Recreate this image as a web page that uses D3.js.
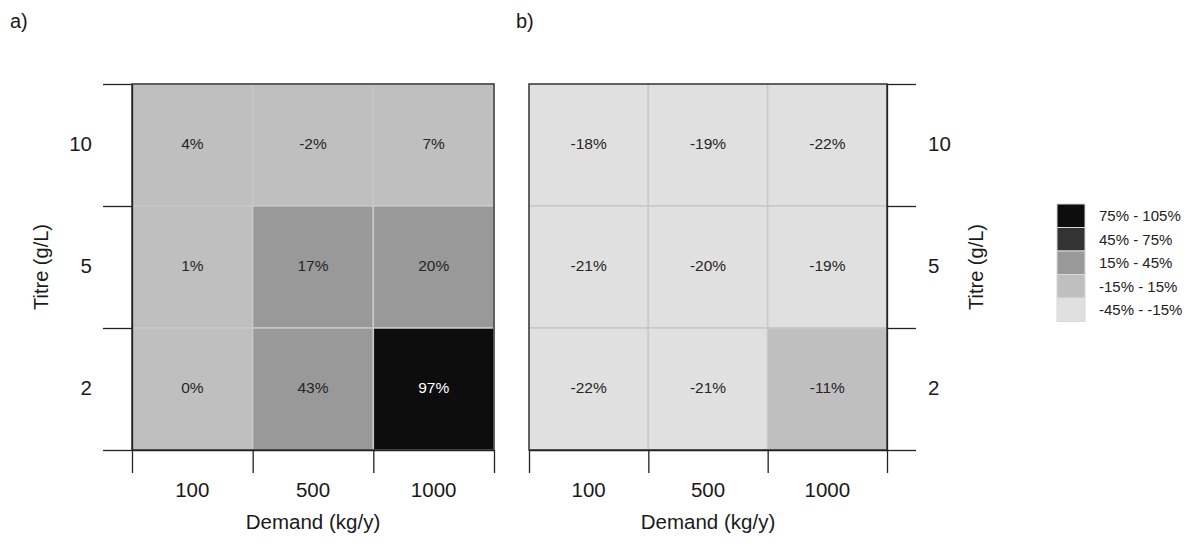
<!DOCTYPE html>
<html>
<head>
<meta charset="utf-8">
<script src="https://cdn.jsdelivr.net/npm/d3@7"></script>
<style>
  body { margin: 0; background: #fff; }
  svg { display: block; font-family: "Liberation Sans", Arial, sans-serif; }
</style>
</head>
<body>
<svg id="chart" width="1201" height="543"></svg>
<script>
// ---- data ----
const demand = ["100", "500", "1000"];
const titre = ["10", "5", "2"];
const valuesA = [
  [4, -2, 7],
  [1, 17, 20],
  [0, 43, 97]
];
const valuesB = [
  [-18, -19, -22],
  [-21, -20, -19],
  [-22, -21, -11]
];
const breaks = [-15, 15, 45, 75];
const legendLabels = ["75% - 105%", "45% - 75%", "15% - 45%", "-15% - 15%", "-45% - -15%"];
const palette = ["#E0E0E0", "#BFBFBF", "#999999", "#333333", "#0D0D0D"];
const panelLabels = ["a)", "b)"];
const xTitle = "Demand (kg/y)";
const yTitle = "Titre (g/L)";

const svg = d3.select("#chart");
const color = d3.scaleThreshold().domain(breaks).range(palette);

const plotTop = 84, plotBottom = 450;
const panels = [
  { label: panelLabels[0], values: valuesA, x0: 132, x1: 494, side: "left", labelX: 10 },
  { label: panelLabels[1], values: valuesB, x0: 529, x1: 887, side: "right", labelX: 516 }
];

panels.forEach(p => {
  const x = d3.scaleBand().domain(demand).range([p.x0, p.x1]);
  const y = d3.scaleBand().domain(titre).range([plotTop, plotBottom]);
  const g = svg.append("g");

  const cells = [];
  titre.forEach((t, i) => demand.forEach((d, j) => cells.push({ t, d, v: p.values[i][j] })));

  g.selectAll("rect.cell").data(cells).join("rect")
    .attr("class", "cell")
    .attr("x", c => x(c.d)).attr("y", c => y(c.t))
    .attr("width", x.bandwidth()).attr("height", y.bandwidth())
    .attr("fill", c => color(c.v))
    .attr("stroke", "#C8C8C8").attr("stroke-width", 1.5);

  g.selectAll("text.val").data(cells).join("text")
    .attr("class", "val")
    .attr("x", c => x(c.d) + x.bandwidth() / 2)
    .attr("y", c => y(c.t) + y.bandwidth() / 2)
    .attr("dy", "0.25em")
    .attr("text-anchor", "middle")
    .attr("font-size", 15.5)
    .attr("fill", c => c.v >= 75 ? "#ffffff" : "#262626")
    .text(c => c.v + "%");

  // box
  g.append("rect")
    .attr("x", p.x0).attr("y", plotTop)
    .attr("width", p.x1 - p.x0).attr("height", plotBottom - plotTop)
    .attr("fill", "none").attr("stroke", "#333").attr("stroke-width", 1.4);

  // x axis (ticks at cell boundaries)
  const xl = d3.scaleLinear().domain([0, 3]).range([p.x0, p.x1]);
  const xa = svg.append("g").attr("transform", `translate(0,${plotBottom})`)
    .call(d3.axisBottom(xl).tickValues([0, 1, 2, 3]).tickSize(23).tickSizeOuter(0).tickFormat(""));
  xa.selectAll("line,path").attr("stroke", "#222").attr("stroke-width", 1.3);

  g.selectAll("text.xt").data(demand).join("text")
    .attr("class", "xt")
    .attr("x", d => x(d) + x.bandwidth() / 2)
    .attr("y", 497)
    .attr("text-anchor", "middle")
    .attr("font-size", 20.5).attr("fill", "#1a1a1a")
    .text(d => d);

  g.append("text")
    .attr("x", (p.x0 + p.x1) / 2).attr("y", 529)
    .attr("text-anchor", "middle")
    .attr("font-size", 20.5).attr("fill", "#1a1a1a")
    .text(xTitle);

  // y axis
  const yl = d3.scaleLinear().domain([0, 3]).range([plotTop, plotBottom]);
  const yaxis = p.side === "left" ? d3.axisLeft(yl) : d3.axisRight(yl);
  const ya = svg.append("g").attr("transform", `translate(${p.side === "left" ? p.x0 : p.x1},0)`)
    .call(yaxis.tickValues([0, 1, 2, 3]).tickSize(29).tickSizeOuter(0).tickFormat(""));
  ya.selectAll("line,path").attr("stroke", "#222").attr("stroke-width", 1.3);

  g.selectAll("text.yt").data(titre).join("text")
    .attr("class", "yt")
    .attr("x", p.side === "left" ? 92 : 928)
    .attr("y", d => y(d) + y.bandwidth() / 2)
    .attr("dy", "0.28em")
    .attr("text-anchor", p.side === "left" ? "end" : "start")
    .attr("font-size", 20.5).attr("fill", "#1a1a1a")
    .text(d => d);

  const tx = p.side === "left" ? 48 : 983;
  g.append("text")
    .attr("transform", `translate(${tx},${(plotTop + plotBottom) / 2}) rotate(-90)`)
    .attr("text-anchor", "middle")
    .attr("font-size", 20).attr("fill", "#1a1a1a")
    .text(yTitle);

  svg.append("text")
    .attr("x", p.labelX).attr("y", 28)
    .attr("font-size", 20).attr("fill", "#1a1a1a")
    .text(p.label);
});

// legend
const legendColors = palette.slice().reverse();
const lg = svg.append("g");
const ly = d3.scaleBand().domain(legendLabels).range([204, 321.5]);
lg.selectAll("rect").data(legendLabels).join("rect")
  .attr("x", 1057).attr("y", d => ly(d))
  .attr("width", 28).attr("height", ly.bandwidth())
  .attr("fill", (d, i) => legendColors[i])
  .attr("stroke", "#d8d8d8").attr("stroke-width", 1);
lg.selectAll("text").data(legendLabels).join("text")
  .attr("x", 1099).attr("y", d => ly(d) + ly.bandwidth() / 2)
  .attr("dy", "0.36em")
  .attr("font-size", 15).attr("fill", "#222")
  .text(d => d);
</script>
</body>
</html>
